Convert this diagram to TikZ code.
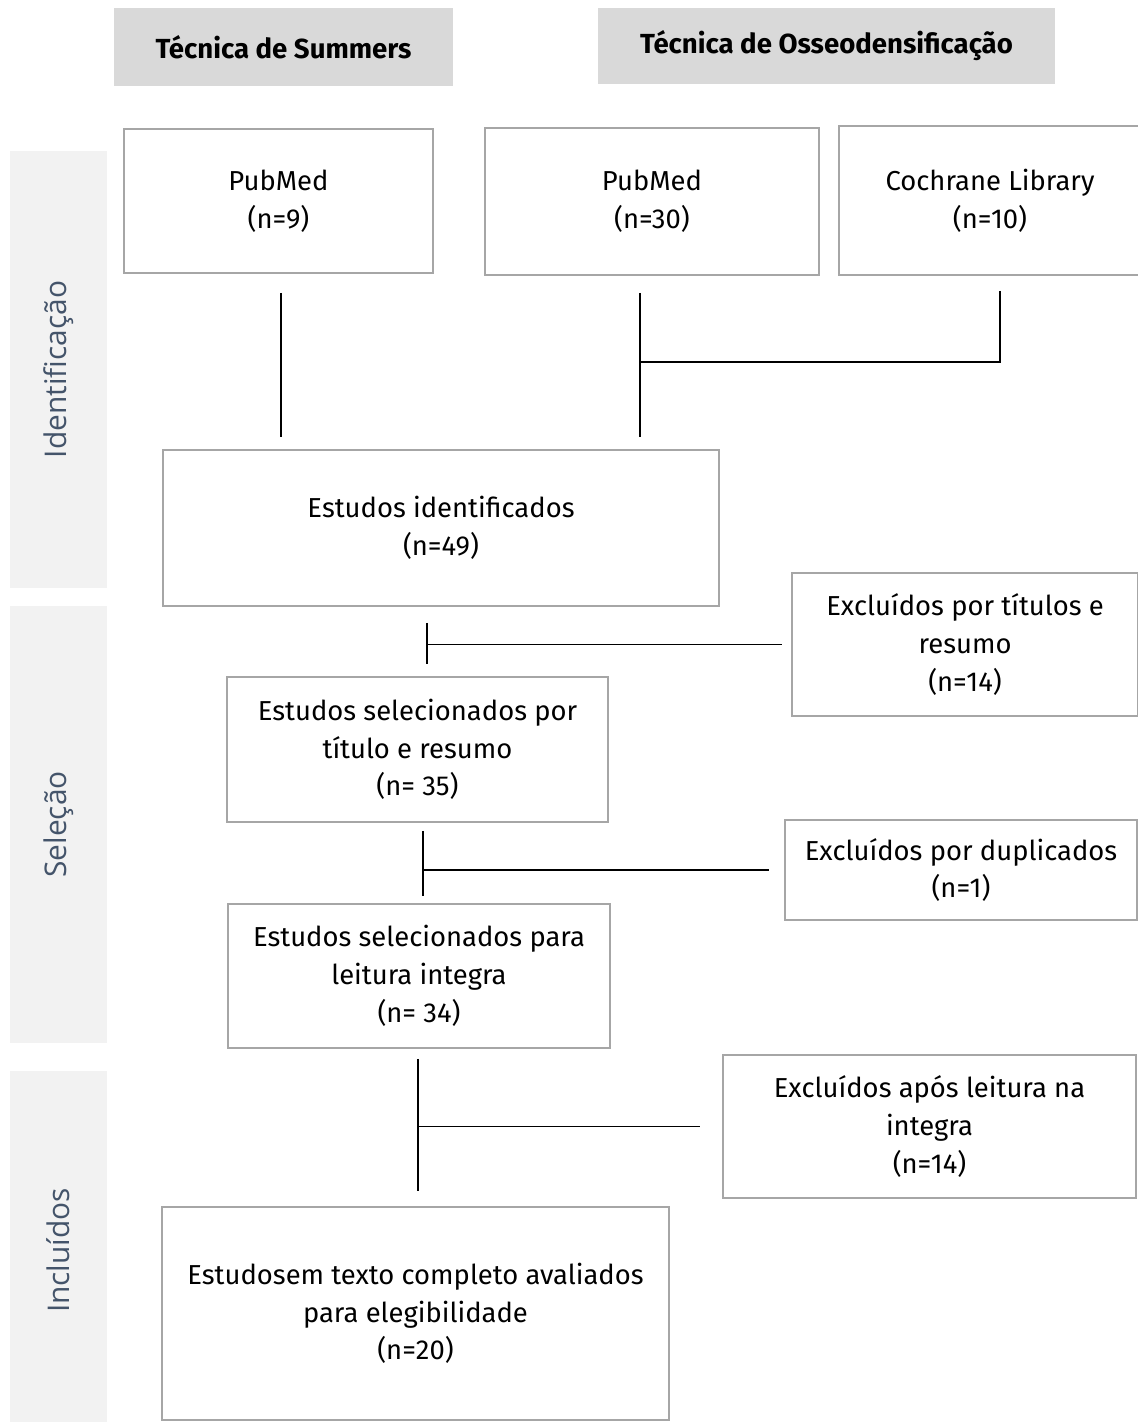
\documentclass[tikz,border=0pt]{standalone}
\usepackage{fontspec}
\setmainfont{Fira Sans}
\newfontfamily\bandfont{Open Sans}
\usepackage{xcolor}
\usetikzlibrary{positioning,calc}
\definecolor{boxgray}{HTML}{A6A6A6}
\definecolor{headgray}{HTML}{D9D9D9}
\definecolor{bandgray}{HTML}{F2F2F2}
\definecolor{slate}{HTML}{44546A}
\tikzset{
    stage/.style={
        rectangle,
        draw=boxgray,
        line width=1.1pt,
        inner sep=2pt,
        align=center,
        font=\fontsize{15.6}{21.5}\selectfont,
    },
    head/.style={
        rectangle,
        fill=headgray,
        inner sep=0pt,
        font=\fontsize{15.7}{18}\selectfont\bfseries,
    },
    band/.style={
        rectangle,
        fill=bandgray,
        rotate=90,
        inner sep=0pt,
        text=slate,
        font=\bandfont\fontsize{17}{20}\selectfont,
    },
    link/.style={
        draw=black,
        line width=0.75pt,
    },
}

\begin{document}
\begin{tikzpicture}[x=0.02cm,y=-0.02cm]
    \useasboundingbox (0,0) rectangle (1138,1422);
    % phase bands
    \node [band, minimum width=8.74cm, minimum height=1.94cm] (b-id) at (58.5,369.5) {Identificação};
    \node [band, minimum width=8.74cm, minimum height=1.94cm] (b-sel) at (58.5,824.5) {Seleção};
    \node [band, minimum width=7.18cm, minimum height=1.94cm] (b-inc) at (58.5,1250.5) {Incluídos};
    % headers
    \node [head, minimum width=6.78cm, minimum height=1.56cm] (h-sum) at (283.5,47) {Técnica de Summers};
    \node [head, minimum width=9.14cm, minimum height=1.52cm] (h-ost) at (826.5,46) {Técnica de Osseodensificação};
    % sources
    \node [stage, minimum width=6.18cm, minimum height=2.88cm] (pm1) at (278.5,201) {PubMed\\(n=9)};
    \node [stage, minimum width=6.68cm, minimum height=2.94cm] (pm2) at (652,201.5) {PubMed\\(n=30)};
    \node [stage, minimum width=6.04cm, minimum height=2.98cm] (coch) at (990,200.5) {Cochrane Library\\(n=10)};
    % main flow
    \node [stage, minimum width=11.12cm, minimum height=3.12cm] (ident) at (441,528) {Estudos identificados\\(n=49)};
    \node [stage, minimum width=7.62cm, minimum height=2.90cm] (sel1) at (417.5,749.5) {Estudos selecionados por\\título e resumo\\(n= 35)};
    \node [stage, minimum width=7.64cm, minimum height=2.88cm] (sel2) at (419,976) {Estudos selecionados para\\leitura integra\\(n= 34)};
    \node [stage, minimum width=10.14cm, minimum height=4.26cm] (final) at (415.5,1313.5) {Estudosem texto completo avaliados\\para elegibilidade\\(n=20)};
    % exclusions
    \node [stage, minimum width=6.92cm, minimum height=2.86cm] (exc1) at (965,644.5) {Excluídos por títulos e\\resumo\\(n=14)};
    \node [stage, minimum width=7.04cm, minimum height=2.00cm] (exc2) at (961,870) {Excluídos por duplicados\\(n=1)};
    \node [stage, minimum width=8.26cm, minimum height=2.86cm] (exc3) at (929.5,1126.5) {Excluídos após leitura na\\integra\\(n=14)};
    % connectors
    \draw [link, shorten <=0.38cm, shorten >=0.24cm] ([xshift=0.05cm]pm1.south) -- ([xshift=0.05cm]pm1.south |- ident.north);
    \draw [link, shorten <=0.34cm, shorten >=0.24cm] ([xshift=-0.24cm]pm2.south) -- ([xshift=-0.24cm]pm2.south |- ident.north);
    \coordinate (ost-join) at ([xshift=-0.24cm]pm2.south |- 0,362);
    \draw [link, shorten <=0.3cm] ([xshift=0.2cm]coch.south) |- (ost-join);
    \draw [link, shorten <=0.32cm, shorten >=0.24cm] ([xshift=0.19cm]sel1.north |- ident.south) -- ([xshift=0.19cm]sel1.north);
    \draw [link, shorten >=0.18cm] ([xshift=0.19cm]sel1.north |- exc1.west) -- (exc1.west);
    \draw [link, shorten <=0.16cm, shorten >=0.14cm] ([xshift=0.08cm]sel2.north |- sel1.south) -- ([xshift=0.08cm]sel2.north);
    \draw [link, shorten >=0.3cm] ([xshift=0.08cm]sel2.north |- exc2.west) -- (exc2.west);
    \draw [link, shorten <=0.2cm, shorten >=0.3cm] ([xshift=0.05cm]final.north |- sel2.south) -- ([xshift=0.05cm]final.north);
    \draw [link, shorten >=0.44cm] ([xshift=0.05cm]final.north |- exc3.west) -- (exc3.west);
\end{tikzpicture}
\end{document}
